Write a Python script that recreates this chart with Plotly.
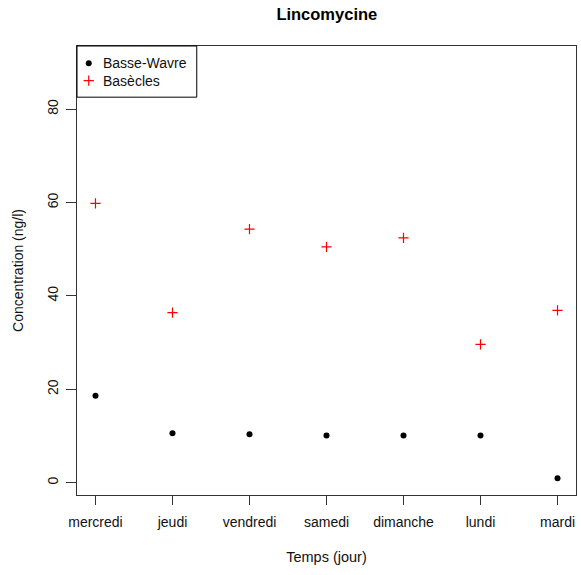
import plotly.graph_objects as go

# Daily lincomycine concentrations (ng/l) at two sampling sites
jours = ["mercredi", "jeudi", "vendredi", "samedi", "dimanche", "lundi", "mardi"]
basse_wavre = [18.6, 10.6, 10.4, 10.1, 10.1, 10.1, 0.95]
basecles = [59.8, 36.4, 54.3, 50.5, 52.4, 29.6, 36.9]
y_ticks = [0, 20, 40, 60, 80]
sites = ["Basse-Wavre", "Basècles"]

x_pos = list(range(1, len(jours) + 1))
FONT = "Liberation Sans, Arial, sans-serif"
AXIS = "#333333"
TEXT = "#111111"

dot_marker = dict(symbol="circle", size=6, color="black")
plus_marker = dict(symbol="cross-thin", size=7.3, color="red",
                   line=dict(color="red", width=1.2))

fig = go.Figure()
fig.add_trace(go.Scatter(x=x_pos, y=basse_wavre, mode="markers",
                         name=sites[0], marker=dot_marker, showlegend=False))
fig.add_trace(go.Scatter(x=x_pos, y=basecles, mode="markers",
                         name=sites[1], marker=plus_marker, showlegend=False))

# Legend box in the top-left corner (paper coordinates of the plot area)
leg_x0, leg_x1, leg_y0, leg_y1 = 0.0, 0.24, 0.886, 1.0
key_x, text_x = 0.0235, 0.049
key_rows = [0.9614, 0.9227]

fig.add_trace(go.Scatter(x=[key_x], y=[key_rows[0]], mode="markers",
                         marker=dot_marker, xaxis="x2", yaxis="y2",
                         showlegend=False, hoverinfo="skip"))
fig.add_trace(go.Scatter(x=[key_x], y=[key_rows[1]], mode="markers",
                         marker=plus_marker, xaxis="x2", yaxis="y2",
                         showlegend=False, hoverinfo="skip"))

fig.add_shape(type="rect", xref="paper", yref="paper",
              x0=leg_x0, x1=leg_x1, y0=leg_y0, y1=leg_y1,
              line=dict(color="black", width=1), fillcolor="rgba(0,0,0,0)")
for label, row in zip(sites, key_rows):
    fig.add_annotation(x=text_x, y=row, xref="paper", yref="paper",
                       text=label, showarrow=False, xanchor="left",
                       yanchor="middle",
                       font=dict(size=14, family=FONT, color=TEXT))

fig.update_layout(
    template="none",
    width=581, height=575,
    margin=dict(l=77, r=5, t=46, b=80),
    paper_bgcolor="white", plot_bgcolor="white",
    font=dict(family=FONT, size=14, color=TEXT),
    title=dict(text="<b>Lincomycine</b>", x=0.5625, xanchor="center",
               y=0.976, yanchor="middle",
               font=dict(size=16.5, family=FONT, color="black")),
    showlegend=False,
    xaxis2=dict(overlaying="x", range=[0, 1], visible=False, fixedrange=True),
    yaxis2=dict(overlaying="y", range=[0, 1], visible=False, fixedrange=True),
)

fig.update_xaxes(
    range=[0.76, 7.24], tickmode="array", tickvals=x_pos, ticktext=jours,
    showline=True, linecolor=AXIS, linewidth=1.2, mirror=True,
    ticks="outside", ticklen=9, tickcolor=AXIS, tickwidth=1,
    showgrid=False, zeroline=False, ticklabelstandoff=5,
    tickfont=dict(size=14, color=TEXT),
    title=dict(text="Temps (jour)", standoff=22,
               font=dict(size=14.5, color=TEXT)),
    selector=dict(overlaying=None),
)
fig.update_yaxes(
    range=[-2.63, 93.5], tickmode="array", tickvals=y_ticks,
    showline=True, linecolor=AXIS, linewidth=1.2, mirror=True,
    ticks="outside", ticklen=10, tickcolor=AXIS, tickwidth=1,
    showgrid=False, zeroline=False, tickangle=-90, ticklabelstandoff=2,
    tickfont=dict(size=14, color=TEXT),
    title=dict(text="Concentration (ng/l)", standoff=18,
               font=dict(size=14, color=TEXT)),
    selector=dict(overlaying=None),
)

fig.write_html("out.html")
